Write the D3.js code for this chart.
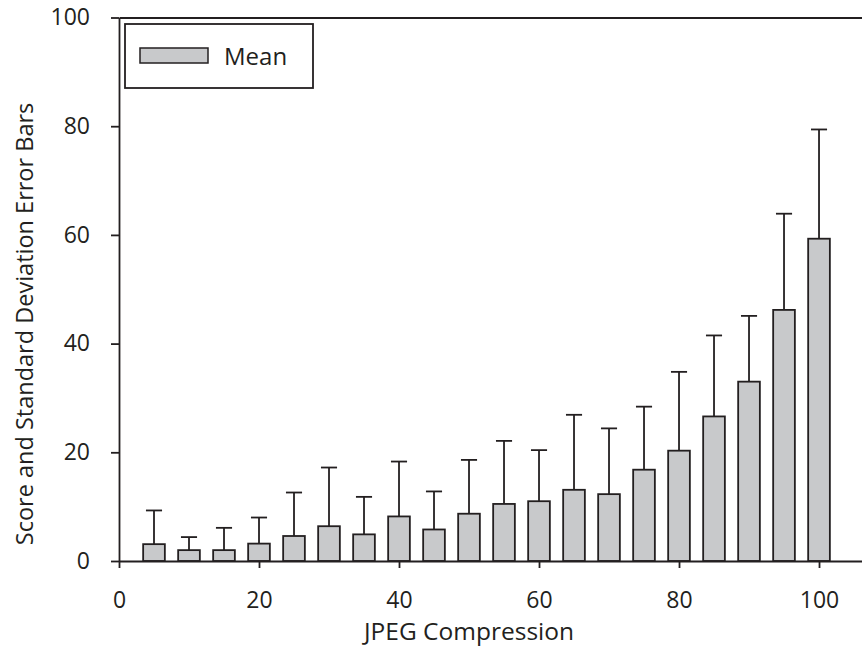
<!DOCTYPE html>
<html>
<head>
<meta charset="utf-8">
<script src="https://cdn.jsdelivr.net/npm/d3@7/dist/d3.min.js"></script>
<style>
  html, body { margin: 0; padding: 0; background: #fff; }
  svg { display: block; }
  text { font-family: "Open Sans", "Noto Sans", sans-serif; fill: #231f20; }
</style>
</head>
<body>
<svg id="chart" width="862" height="648"></svg>
<script>
const compression = [5, 10, 15, 20, 25, 30, 35, 40, 45, 50, 55, 60, 65, 70, 75, 80, 85, 90, 95, 100];
const meanScore   = [3.1, 2.0, 2.0, 3.2, 4.6, 6.4, 4.9, 8.2, 5.8, 8.7, 10.5, 11.0, 13.1, 12.3, 16.8, 20.3, 26.6, 33.0, 46.2, 59.3];
const upperError  = [9.3, 4.4, 6.1, 8.0, 12.6, 17.2, 11.8, 18.3, 12.8, 18.6, 22.1, 20.4, 26.9, 24.4, 28.4, 34.8, 41.5, 45.1, 63.9, 79.4];
const xTicks = [0, 20, 40, 60, 80, 100];
const yTicks = [0, 20, 40, 60, 80, 100];
const legendLabel = "Mean";
const xTitle = "JPEG Compression";
const yTitle = "Score and Standard Deviation Error Bars";

const svg = d3.select("#chart");
const ink = "#231f20";
const barFill = "#c8c9cb";

const x = d3.scaleLinear().domain([0, 106.14]).range([119, 862]);
const y = d3.scaleLinear().domain([0, 100]).range([561, 17.5]);
const barW = x(3.1) - x(0);
const capW = x(2.3) - x(0);

// error bars (drawn first so bar outline covers base)
const eb = svg.append("g");
compression.forEach((c, i) => {
  eb.append("line")
    .attr("x1", x(c)).attr("x2", x(c))
    .attr("y1", y(meanScore[i])).attr("y2", y(upperError[i]))
    .attr("stroke", ink).attr("stroke-width", 1.8);
  eb.append("line")
    .attr("x1", x(c) - capW / 2).attr("x2", x(c) + capW / 2)
    .attr("y1", y(upperError[i])).attr("y2", y(upperError[i]))
    .attr("stroke", ink).attr("stroke-width", 1.8);
});

// bars
svg.append("g").selectAll("rect")
  .data(compression)
  .join("rect")
  .attr("x", d => x(d) - barW / 2)
  .attr("width", barW)
  .attr("y", (d, i) => y(meanScore[i]))
  .attr("height", (d, i) => y(0) - y(meanScore[i]))
  .attr("fill", barFill)
  .attr("stroke", ink)
  .attr("stroke-width", 1.8);

// x axis
const xAxis = svg.append("g")
  .attr("transform", `translate(0,${y(0)})`)
  .call(d3.axisBottom(x).tickValues(xTicks).tickSize(7).tickPadding(24).tickSizeOuter(0));
// top line
const topAxis = svg.append("g")
  .attr("transform", `translate(0,${y(100)})`)
  .call(d3.axisTop(x).tickValues([]).tickSizeOuter(0));
// y axis
const yAxis = svg.append("g")
  .attr("transform", `translate(${x(0)},0)`)
  .call(d3.axisLeft(y).tickValues(yTicks).tickSize(8).tickPadding(21).tickSizeOuter(0));

[xAxis, topAxis, yAxis].forEach(g => {
  g.selectAll("path.domain").attr("stroke", ink).attr("stroke-width", 1.8);
  g.selectAll(".tick line").attr("stroke", ink).attr("stroke-width", 1.8);
  g.selectAll(".tick text").attr("fill", ink).style("font-size", "23px")
    .style("font-family", '"Open Sans", "Noto Sans", sans-serif');
});
xAxis.selectAll(".tick text").attr("dy", "0.71em");

// axis titles
svg.append("text")
  .attr("x", x(50)).attr("y", 640)
  .attr("text-anchor", "middle")
  .style("font-size", "24.5px")
  .text(xTitle);
svg.append("text")
  .attr("transform", `translate(33,324) rotate(-90)`)
  .attr("text-anchor", "middle")
  .style("font-size", "23.5px")
  .text(yTitle);

// legend
const lg = svg.append("g");
lg.append("rect")
  .attr("x", 125).attr("y", 24).attr("width", 188).attr("height", 64)
  .attr("fill", "#fff").attr("stroke", ink).attr("stroke-width", 1.8);
lg.append("rect")
  .attr("x", 140).attr("y", 48).attr("width", 68).attr("height", 15)
  .attr("fill", barFill).attr("stroke", ink).attr("stroke-width", 1.5);
lg.append("text")
  .attr("x", 224).attr("y", 65)
  .style("font-size", "24px")
  .text(legendLabel);
</script>
</body>
</html>
